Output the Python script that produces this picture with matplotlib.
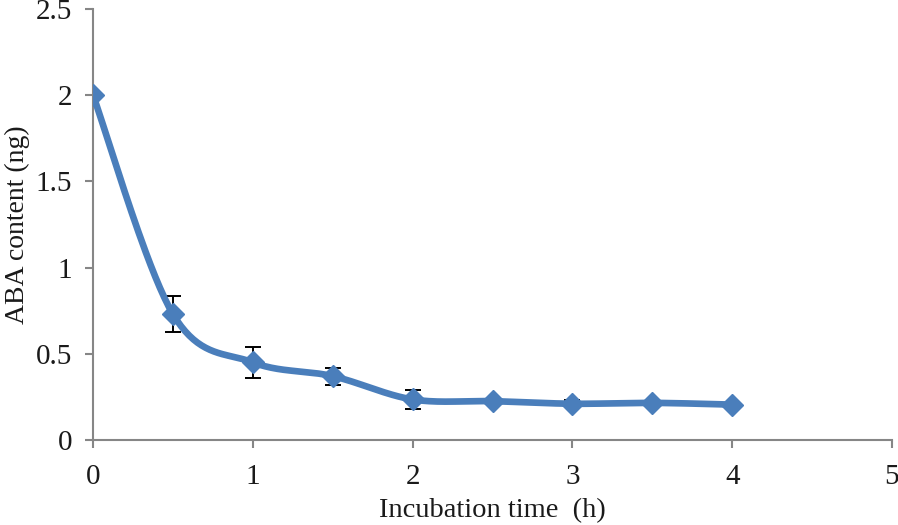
import matplotlib.pyplot as plt
import numpy as np

plt.rcParams["font.family"] = ["Liberation Serif", "DejaVu Serif"]

# Data
time_h = [0, 0.5, 1, 1.5, 2, 2.5, 3, 3.5, 4]
aba_ng = [2.0, 0.73, 0.45, 0.37, 0.235, 0.225, 0.21, 0.215, 0.205]
aba_err = [0.0, 0.105, 0.09, 0.05, 0.053, 0.01, 0.02, 0.01, 0.01]

x_ticks = [0, 1, 2, 3, 4, 5]
y_ticks = [0, 0.5, 1, 1.5, 2, 2.5]
y_tick_labels = ["0", "0.5", "1", "1.5", "2", "2.5"]


def smooth_curve(x, y, n=40):
    """Catmull-Rom style smoothed line, like a spreadsheet 'smoothed line'."""
    x = np.asarray(x, dtype=float)
    y = np.asarray(y, dtype=float)
    pts = np.column_stack([x, y])
    out = []
    for i in range(len(pts) - 1):
        p0 = pts[i - 1] if i > 0 else pts[i]
        p1 = pts[i]
        p2 = pts[i + 1]
        p3 = pts[i + 2] if i + 2 < len(pts) else pts[i + 1]
        c1 = p1 + (p2 - p0) / 6.0
        c2 = p2 - (p3 - p1) / 6.0
        t = np.linspace(0, 1, n)[:, None]
        seg = ((1 - t) ** 3) * p1 + 3 * ((1 - t) ** 2) * t * c1 \
            + 3 * (1 - t) * t ** 2 * c2 + t ** 3 * p2
        out.append(seg if i == 0 else seg[1:])
    curve = np.vstack(out)
    return curve[:, 0], curve[:, 1]


fig = plt.figure(figsize=(8.98, 5.25), dpi=100)
ax = fig.add_axes([0.1036, 0.162, 0.8897, 0.821])

line_color = "#4A7EBB"
axis_color = "#868686"
text_color = "#1a1a1a"

sx, sy = smooth_curve(time_h, aba_ng)
ax.plot(sx, sy, color=line_color, linewidth=4.8, solid_capstyle="round", zorder=3)

ax.errorbar(
    time_h,
    aba_ng,
    yerr=aba_err,
    fmt="none",
    ecolor="black",
    elinewidth=1.4,
    capsize=6,
    capthick=1.4,
    zorder=2,
)

ax.plot(
    time_h,
    aba_ng,
    linestyle="none",
    marker="D",
    markersize=11,
    color=line_color,
    markeredgecolor=line_color,
    zorder=4,
)

ax.set_xlim(0, 5)
ax.set_ylim(0, 2.5)
ax.set_xticks(x_ticks)
ax.set_yticks(y_ticks)
ax.set_yticklabels(y_tick_labels)

for side in ["top", "right"]:
    ax.spines[side].set_visible(False)
for side in ["left", "bottom"]:
    ax.spines[side].set_color(axis_color)
    ax.spines[side].set_linewidth(1.5)

ax.tick_params(
    axis="both",
    direction="out",
    length=6,
    width=1.5,
    color=axis_color,
    labelsize=21,
    labelcolor=text_color,
)
ax.tick_params(axis="x", pad=11)
ax.tick_params(axis="y", pad=9)

ax.set_xlabel("Incubation time  (h)", fontsize=20.5, color=text_color, labelpad=6)
ax.set_ylabel("ABA content (ng)", fontsize=20, color=text_color)
ax.yaxis.set_label_coords(-0.079, 0.5)

fig.savefig("out.png", dpi=100)
